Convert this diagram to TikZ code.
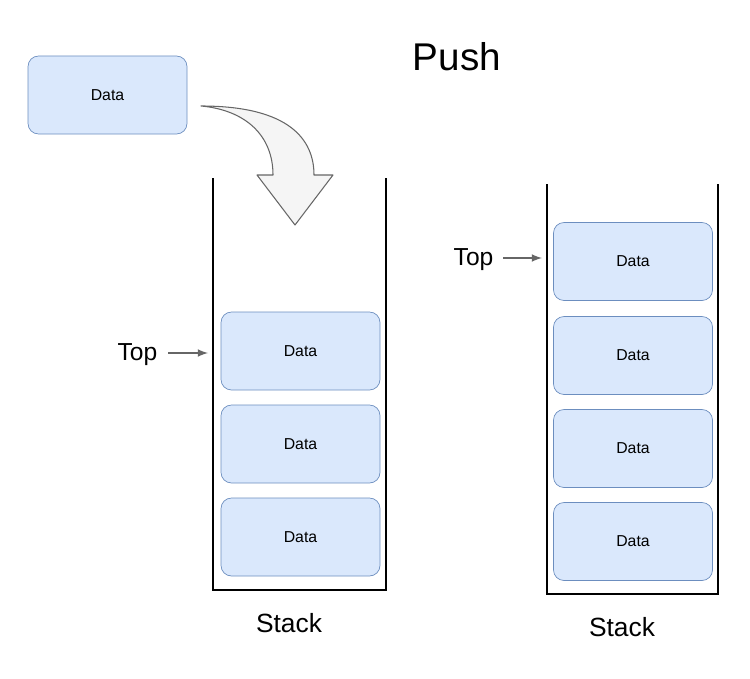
\documentclass[tikz,border=0pt]{standalone}
\usepackage{fontspec}
\setmainfont{Liberation Sans}
\usetikzlibrary{shapes,arrows}
\definecolor{boxfill}{HTML}{DAE8FC}
\definecolor{boxline}{HTML}{6C8EBF}
\definecolor{arrowgray}{HTML}{666666}
\definecolor{pushfill}{HTML}{F5F5F5}
\newcommand{\databox}[3]{
  \node[datanode] (#1) at (#2,#3) {Data};
}
\tikzset{x=0.02cm, y=-0.02cm}

\begin{document}
\begin{tikzpicture}
	\tikzstyle{datanode}=[draw=boxline, fill=boxfill, rounded corners=6pt,
	  minimum width=159*0.02cm, minimum height=78*0.02cm, inner sep=0pt,
	  font=\fontsize{9}{10}\selectfont]
	\tikzstyle{wall}=[draw=black, line width=0.8pt]
	\tikzstyle{toparrow}=[->, >=latex, draw=arrowgray, line width=1pt]
	\tikzstyle{biglabel}=[font=\fontsize{14}{16}\selectfont, inner sep=0pt]
	\useasboundingbox (0,0) rectangle (750,679);
	% title and the new item
	\node[font=\fontsize{22}{26}\selectfont] (push) at (457,57) {Push};
	\databox{new}{107.5}{95}
	% curved push arrow
	\draw[draw=arrowgray, fill=pushfill, line width=0.6pt, line join=round]
	  (201,106) .. controls (290,106) and (314,140) .. (314,175)
	  -- (333,175) -- (295,225) -- (257,175) -- (273,175)
	  .. controls (273,135) and (245,110) .. (201,106) -- cycle;
	% stack before
	\draw[wall] (213,178) -- (213,590) -- (386,590) -- (386,178);
	\databox{a1}{300.5}{351}
	\databox{a2}{300.5}{444}
	\databox{a3}{300.5}{537}
	\node[biglabel] (topA) at (137.5,355) {Top};
	\coordinate (topAstart) at (168,353);
	\coordinate (topAend) at (208,353);
	\draw[toparrow, fill=arrowgray] (topAstart) -- (topAend);
	\node[font=\fontsize{15}{18}\selectfont] (stackA) at (289,623) {Stack};
	% stack after
	\draw[wall] (547,184) -- (547,594) -- (718,594) -- (718,184);
	\databox{b1}{633}{261.5}
	\databox{b2}{633}{355.5}
	\databox{b3}{633}{448.5}
	\databox{b4}{633}{541.5}
	\node[biglabel] (topB) at (473.5,260) {Top};
	\coordinate (topBstart) at (503,258);
	\coordinate (topBend) at (542,258);
	\draw[toparrow, fill=arrowgray] (topBstart) -- (topBend);
	\node[font=\fontsize{15}{18}\selectfont] (stackB) at (622,627) {Stack};
\end{tikzpicture}
\end{document}
